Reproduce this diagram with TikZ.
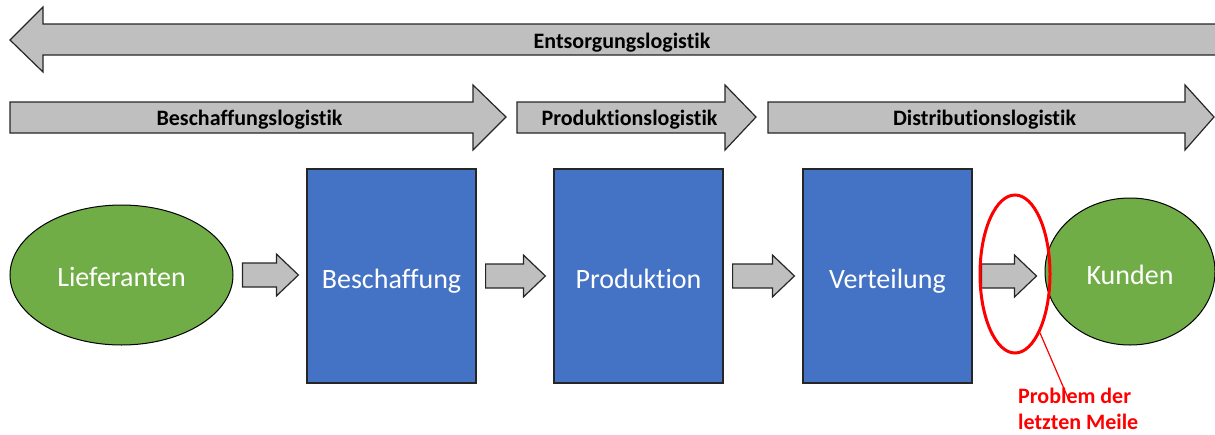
\documentclass[tikz,border=0pt]{standalone}
\usepackage{fontspec}
\setmainfont{Carlito}[Ligatures=NoCommon]
\usetikzlibrary{shapes.geometric,calc}
\definecolor{bandgray}{HTML}{BFBFBF}
\definecolor{stepblue}{HTML}{4472C4}
\definecolor{partygreen}{HTML}{70AD47}
\definecolor{edgedark}{HTML}{262626}
\definecolor{alertred}{HTML}{FF0000}

% block arrow from node #1 to node #2 (shaft half 12, head half 21, head length 22)
\newcommand\flowarrow[2]{%
  \coordinate (fa-s) at ($(#1.east)+(9,0)$);
  \coordinate (fa-e) at ($(#2.west |- fa-s)+(-8,0)$);
  \draw[flow] ($(fa-s)+(0,-12)$) -- ($(fa-e)+(-22,-12)$) -- ($(fa-e)+(-22,-21)$)
    -- (fa-e) -- ($(fa-e)+(-22,21)$) -- ($(fa-e)+(-22,12)$) -- ($(fa-s)+(0,12)$) -- cycle;
}

\begin{document}
\begin{tikzpicture}[x=1pt,y=-1pt,
  band/.style={fill=bandgray,draw=edgedark,line width=1.2pt,line join=miter},
  bandlabel/.style={font=\bfseries\fontsize{22}{26}\selectfont,text=black,inner sep=0pt,
    text height=16pt,text depth=0pt},
  stepbox/.style={rectangle,fill=stepblue,draw=edgedark,line width=1.2pt,
    minimum width=169pt,minimum height=214pt,inner sep=0pt,
    text height=24pt,text depth=0pt,
    text=white,font=\fontsize{28}{32}\selectfont},
  party/.style={ellipse,fill=partygreen,draw=black,line width=1pt,inner sep=0pt,
    text height=22pt,text depth=0pt,
    text=white,font=\fontsize{28}{32}\selectfont},
  flow/.style={fill=bandgray,draw=edgedark,line width=1.2pt,line join=miter},
  mark red/.style={draw=alertred,line width=3pt}
]
\useasboundingbox (0,0) rectangle (1215,434);

% --- return flow band (right to left) ---
\draw[band] (1220,24) -- (43,24) -- (43,7) -- (10,40) -- (43,72) -- (43,55) -- (1220,55);
\node[bandlabel] (entsorgung) at (622,40) {Entsorgungslogistik};

% --- forward logistics bands ---
\draw[band] (10,102) -- (473,102) -- (473,85) -- (506,117) -- (473,150) -- (473,133) -- (10,133) -- cycle;
\node[bandlabel] (beschlog) at (249.5,117) {Beschaffungslogistik};

\draw[band] (517,102) -- (725,102) -- (725,85) -- (756,117) -- (725,150) -- (725,133) -- (517,133) -- cycle;
\node[bandlabel] (prodlog) at (629.5,117) {Produktionslogistik};

\draw[band] (768,102) -- (1185,102) -- (1185,85) -- (1214,117) -- (1185,150) -- (1185,133) -- (768,133) -- cycle;
\node[bandlabel] (distlog) at (984.5,117) {Distributionslogistik};

% --- chain of actors and steps ---
\node[party,minimum width=223pt,minimum height=140pt] (lief) at (121.5,275) {Lieferanten};
\node[stepbox] (besch) at (391.5,276) {Beschaffung};
\node[stepbox] (prod) at (638.5,276) {Produktion};
\node[stepbox] (vert) at (887.5,276) {Verteilung};
\node[party,minimum width=170pt,minimum height=147pt,text height=26pt] (kunden) at (1130,271.5) {Kunden};

\flowarrow{lief}{besch}
\flowarrow{besch}{prod}
\flowarrow{prod}{vert}
\flowarrow{vert}{kunden}

% --- last mile highlight ---
\node[ellipse,mark red,minimum width=70pt,minimum height=158pt,inner sep=0pt] (lastmile) at (1015,274) {};
\node[anchor=north west,inner sep=0pt,align=left,text=alertred,
  font=\bfseries\fontsize{22}{25.5}\selectfont] (note) at (1018,388) {Problem der\\letzten Meile};
\coordinate (noteend) at ($(note.north west)+(50,10)$);
\draw[draw=alertred,line width=1.2pt] (lastmile.-67) -- (noteend);
\end{tikzpicture}
\end{document}
